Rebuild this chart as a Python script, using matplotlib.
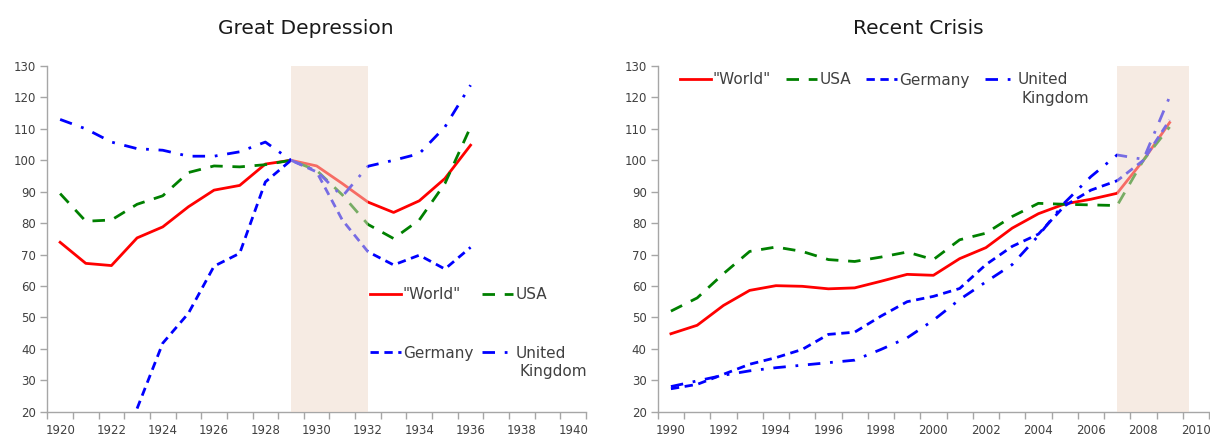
import numpy as np
import matplotlib
matplotlib.use("Agg")
import matplotlib.pyplot as plt

# Great Depression, index 1929 = 100
years_gd = [1920, 1921, 1922, 1923, 1924, 1925, 1926, 1927, 1928,
            1929, 1930, 1931, 1932, 1933, 1934, 1935, 1936]
world_gd = [73.9, 67.2, 66.5, 75.3, 78.8, 85.2, 90.5, 92.0, 98.8,
            100.0, 98.2, 92.6, 86.7, 83.4, 87.1, 94.2, 104.8]
usa_gd = [89.4, 80.6, 81.0, 86.0, 88.7, 96.1, 98.2, 97.9, 98.6,
          100.0, 96.8, 89.0, 79.6, 75.1, 81.0, 92.6, 110.6]
germany_gd = [np.nan, np.nan, np.nan, 21.0, 41.8, 51.3, 66.3, 70.4, 93.1,
              100.0, 96.3, 81.0, 70.9, 66.7, 69.8, 65.4, 72.3]
uk_gd = [113.0, 110.0, 105.8, 103.7, 103.2, 101.3, 101.3, 102.7, 105.8,
         100.0, 96.6, 88.5, 98.1, 100.0, 102.1, 110.6, 123.9]

# Recent crisis, index 2008 = 100
years_rc = [1990, 1991, 1992, 1993, 1994, 1995, 1996, 1997, 1998, 1999,
            2000, 2001, 2002, 2003, 2004, 2005, 2006, 2007, 2008, 2009]
world_rc = [44.8, 47.5, 53.8, 58.6, 60.1, 59.9, 59.1, 59.4, 61.5, 63.7,
            63.4, 68.7, 72.2, 78.4, 83.0, 86.1, 87.6, 89.5, 100.0, 112.0]
usa_rc = [52.0, 56.2, 63.9, 71.0, 72.4, 71.0, 68.4, 67.8, 69.2, 70.8,
          68.4, 74.7, 76.8, 82.1, 86.3, 86.0, 85.8, 85.6, 100.0, 110.6]
germany_rc = [27.3, 28.7, 31.9, 35.1, 37.2, 39.8, 44.6, 45.3, 50.4, 55.0,
              56.7, 59.2, 66.8, 72.6, 76.5, 85.5, 90.5, 93.5, 100.0, 112.8]
uk_rc = [28.0, 29.8, 31.6, 33.0, 34.0, 34.8, 35.6, 36.4, 39.8, 43.5,
         49.1, 55.7, 61.3, 66.8, 76.0, 86.5, 94.8, 101.7, 100.3, 120.2]

# "Kingdom" goes on a second line under "United", added after the legend
labels = ['"World"', "USA", "Germany", "United"]

plt.rcParams["font.family"] = ["DejaVu Sans"]

fig = plt.figure(figsize=(12.1, 4.4), dpi=100)
W, H = 1210, 440

def axes_px(x0, x1, ytop, ybot):
    return fig.add_axes([x0 / W, 1 - ybot / H, (x1 - x0) / W, (ybot - ytop) / H])

ax1 = axes_px(47.3, 586, 66, 411.7)
ax2 = axes_px(657.8, 1209, 66, 411.7)

LW = 2.0
styles = [
    dict(color="#ff0000", linestyle="-"),
    dict(color="#008000", linestyle=(0, (4.5, 3.5))),
    dict(color="#0000ff", linestyle=(0, (3, 2))),
    dict(color="#0000ff", linestyle=(0, (4.5, 3.5, 1, 3.5))),
]


def draw(ax, years, series, first, span):
    lines = []
    for s, st, lab in zip(series, styles, labels):
        ln, = ax.plot(years, s, lw=LW, label=lab, zorder=2, **st)
        lines.append(ln)
    ax.axvspan(span[0], span[1], color="#efd9c9", alpha=0.5, lw=0, zorder=3)
    ax.set_xlim(first - 0.5, first + 20.5)
    ax.set_ylim(20, 130)
    ax.set_yticks(range(20, 131, 10))
    ax.set_xticks(np.arange(first - 0.5, first + 21, 1.0), minor=True)
    ax.set_xticks(range(first, first + 21, 2))
    ax.tick_params(axis="x", which="major", length=0, pad=9,
                   labelsize=8.5, labelcolor="#404040")
    ax.tick_params(axis="x", which="minor", length=5, color="#a6a6a6", width=1)
    ax.tick_params(axis="y", length=5, color="#a6a6a6", width=1,
                   labelsize=8.5, labelcolor="#404040", pad=3)
    for sp in ("top", "right"):
        ax.spines[sp].set_visible(False)
    for sp in ("left", "bottom"):
        ax.spines[sp].set_color("#a6a6a6")
        ax.spines[sp].set_linewidth(1)
    return lines


l1 = draw(ax1, years_gd, [world_gd, usa_gd, germany_gd, uk_gd], 1920, (1929, 1932))
l2 = draw(ax2, years_rc, [world_rc, usa_rc, germany_rc, uk_rc], 1990, (2007, 2009.75))

# left legend: 2 columns filled row by row
order = [0, 2, 1, 3]
leg1 = ax1.legend([l1[i] for i in order], [labels[i] for i in order],
                  loc="upper left", bbox_to_anchor=(370 / W, 1 - 287 / H),
                  bbox_transform=fig.transFigure, ncol=2, frameon=False,
                  fontsize=11, handlelength=2.0, handletextpad=0.15,
                  columnspacing=0.6, labelspacing=2.85, borderpad=0,
                  borderaxespad=0)
leg2 = ax2.legend(loc="upper left", bbox_to_anchor=(680 / W, 1 - 72.5 / H),
                  bbox_transform=fig.transFigure, ncol=4, frameon=False,
                  fontsize=11, handlelength=2.0, handletextpad=0.15,
                  columnspacing=1.0, borderpad=0, borderaxespad=0)
for ax, leg in ((ax1, leg1), (ax2, leg2)):
    for t in leg.get_texts():
        t.set_color("#404040")
    uk_text = [t for t in leg.get_texts() if t.get_text() == "United"][0]
    ax.annotate("Kingdom", xy=(0, 0), xycoords=uk_text, xytext=(3, -2.5),
                textcoords="offset points", ha="left", va="top",
                fontsize=11, color="#404040", zorder=6,
                annotation_clip=False)

fig.text(306 / W, 1 - 28 / H, "Great Depression", ha="center", va="center",
         fontsize=14.5, color="#1a1a1a")
fig.text(918 / W, 1 - 28 / H, "Recent Crisis", ha="center", va="center",
         fontsize=14.5, color="#1a1a1a")

fig.canvas.draw()
fig.savefig("out.png", dpi=100)
